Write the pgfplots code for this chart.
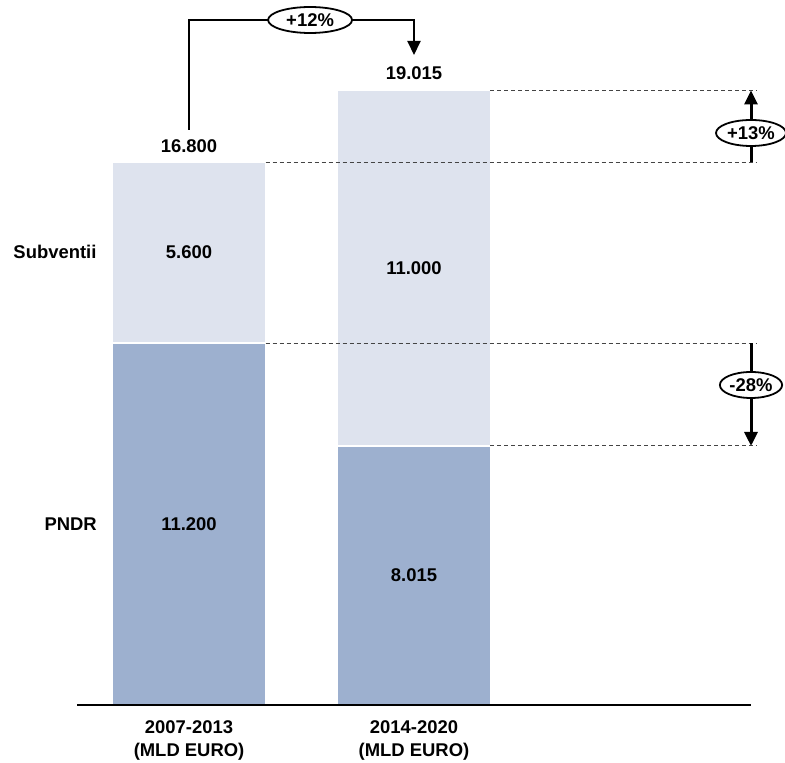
\documentclass[border=0pt]{standalone}
\usepackage{pgfplots}
\pgfplotsset{compat=1.18}
\usepackage{fontspec}
\setmainfont{Liberation Sans}
\usetikzlibrary{arrows.meta,shapes.geometric}
\definecolor{lightbar}{HTML}{DEE3EE}
\definecolor{darkbar}{HTML}{9DB0CF}
\definecolor{dashgray}{HTML}{444444}
\tikzset{
  ell/.style={ellipse, draw, fill=white, line width=1.8bp, inner sep=0.5bp, minimum height=26bp},
  dsh/.style={dashgray, line width=1bp, dash pattern=on 4bp off 3bp},
  arr/.style={-{Triangle[length=14bp, width=13bp]}},
}

\begin{document}
\begin{tikzpicture}[font=\fontsize{18.5}{23}\selectfont\bfseries]
\begin{axis}[
  scale only axis, width=674bp, height=705bp,
  xmin=-0.498, xmax=2.498, ymin=0, ymax=21813,
  ybar stacked, bar width=0.68,
  axis x line=bottom, axis y line=none,
  x axis line style={-, line width=1.5bp},
  xtick={0,1}, xticklabels={{2007-2013\\(MLD EURO)},{2014-2020\\(MLD EURO)}},
  major tick length=0pt,
  xticklabel style={align=center, font=\fontsize{18.5}{23}\selectfont\bfseries, yshift=-12bp},
  ytick=\empty,
  axis on top, clip=false,
]
\addplot[fill=darkbar, draw=white, line width=1.5bp] coordinates {(0,11200) (1,8015)};
\addplot[fill=lightbar, draw=white, line width=1.5bp] coordinates {(0,5600) (1,11000)};

\coordinate (d1a) at (axis cs:0.34,16800);  \coordinate (d1b) at (axis cs:2.524,16800);
\coordinate (d2a) at (axis cs:1.34,19015);  \coordinate (d2b) at (axis cs:2.524,19015);
\coordinate (d3a) at (axis cs:0.34,11200);  \coordinate (d3b) at (axis cs:2.524,11200);
\coordinate (d4a) at (axis cs:1.34,8015);   \coordinate (d4b) at (axis cs:2.524,8015);
\coordinate (u1) at (axis cs:2.498,16800);  \coordinate (u2) at (axis cs:2.498,19015);
\coordinate (w1) at (axis cs:2.498,11200);  \coordinate (w2) at (axis cs:2.498,8015);
\coordinate (b1) at (axis cs:0,17791); \coordinate (b2) at (axis cs:0,21194);
\coordinate (b3) at (axis cs:1,21194); \coordinate (b4) at (axis cs:1,20111);
\coordinate (e13) at (axis cs:2.498,17698);
\coordinate (e28) at (axis cs:2.498,9901);
\coordinate (e12) at (axis cs:0.538,21194);
\coordinate (t1) at (axis cs:0,17296);  \coordinate (t2) at (axis cs:1,19554);
\coordinate (s1) at (axis cs:0,14000);  \coordinate (p1) at (axis cs:0,5600);
\coordinate (s2) at (axis cs:1,13515);  \coordinate (p2) at (axis cs:1,4007);
\coordinate (ls) at (axis cs:-0.596,14016);
\coordinate (lp) at (axis cs:-0.526,5600);
\coordinate (O) at (rel axis cs:0,0);
\end{axis}

% dashed reference lines
\draw[dsh] (d1a) -- (d1b);
\draw[dsh] (d2a) -- (d2b);
\draw[dsh] (d3a) -- (d3b);
\draw[dsh] (d4a) -- (d4b);
% change arrows
\draw[line width=3bp, arr] (u1) -- (u2);
\draw[line width=3bp, arr] (w1) -- (w2);
\draw[line width=2bp, arr] (b1) -- (b2) -- (b3) -- (b4);
\node[ell, minimum width=70bp] at (e13) {+13\%};
\node[ell, minimum width=62bp] at (e28) {-28\%};
\node[ell, minimum width=84bp] at (e12) {+12\%};
% value labels
\node at (t1) {16.800};
\node at (t2) {19.015};
\node at (s1) {5.600};
\node at (p1) {11.200};
\node at (s2) {11.000};
\node at (p2) {8.015};
\node at (ls) {Subventii};
\node at (lp) {PNDR};

\pgfresetboundingbox
\useasboundingbox (O) ++(-77bp,-58bp) rectangle ++(785bp,763bp);
\end{tikzpicture}
\end{document}
